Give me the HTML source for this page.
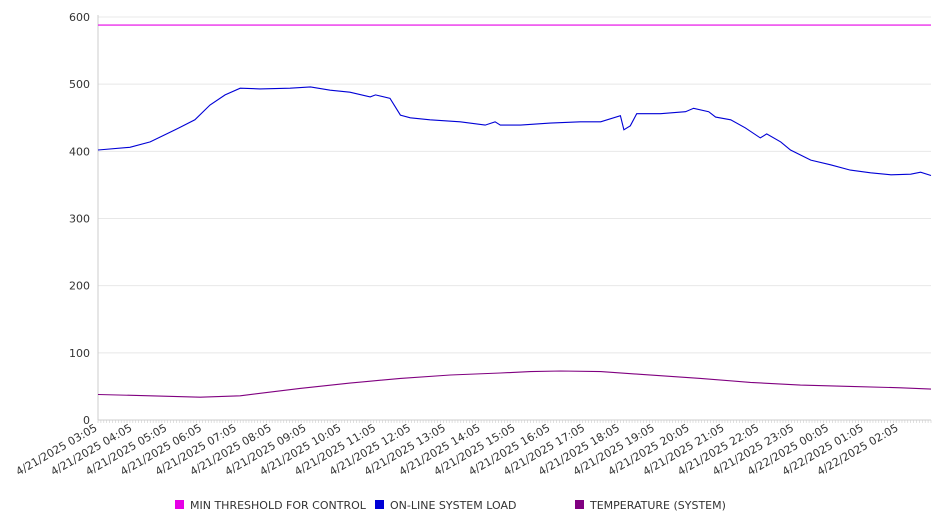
<!DOCTYPE html>
<html><head><meta charset="utf-8"><style>
body{margin:0;background:#fff;font-family:"DejaVu Sans","Liberation Sans",sans-serif;}
svg text{font-family:"DejaVu Sans","Liberation Sans",sans-serif;fill:#333;}
</style></head><body>
<svg id="chart" width="946" height="526" xmlns="http://www.w3.org/2000/svg"></svg>
<script>
const yTicks=[0,100,200,300,400,500,600];
const xLabels=["4/21/2025 03:05","4/21/2025 04:05","4/21/2025 05:05","4/21/2025 06:05","4/21/2025 07:05","4/21/2025 08:05","4/21/2025 09:05","4/21/2025 10:05","4/21/2025 11:05","4/21/2025 12:05","4/21/2025 13:05","4/21/2025 14:05","4/21/2025 15:05","4/21/2025 16:05","4/21/2025 17:05","4/21/2025 18:05","4/21/2025 19:05","4/21/2025 20:05","4/21/2025 21:05","4/21/2025 22:05","4/21/2025 23:05","4/22/2025 00:05","4/22/2025 01:05","4/22/2025 02:05"];
const thresholdMin=[0,1435];
const thresholdVal=[588,588];
const loadMin=[0,55,90,133,167,193,219,245,279,331,366,400,434,469,478,503,521,538,572,624,667,684,693,728,779,831,866,900,906,917,928,969,1012,1026,1052,1064,1090,1115,1141,1152,1176,1193,1228,1262,1296,1331,1366,1400,1417,1435];
const loadVal=[402,406,414,432,447,469,484,494,493,494,496,491,488,481,484,479,454,450,447,444,439,444,439,439,442,444,444,453,432,438,456,456,459,464,459,451,447,435,420,426,414,402,387,380,372,368,365,366,369,364];
const tempMin=[0,90,176,245,348,434,521,607,693,745,797,866,934,1038,1124,1210,1296,1383,1435];
const tempVal=[38,36,34,36,47,55,62,67,70,72,73,72,68,62,56,52,50,48,46];
const series=[
 {name:"MIN THRESHOLD FOR CONTROL",color:"#e600e6",x:thresholdMin,y:thresholdVal,key:"threshold"},
 {name:"ON-LINE SYSTEM LOAD",color:"#0000d6",x:loadMin,y:loadVal,key:"load"},
 {name:"TEMPERATURE (SYSTEM)",color:"#800080",x:tempMin,y:tempVal,key:"temperature"}];
const L=98,R=931,T=17,B=420,maxMin=1435;
const xs=m=>L+(R-L)*m/maxMin, ys=v=>B-(B-T)*v/600;
const svg=document.getElementById('chart'),NS="http://www.w3.org/2000/svg";
function mk(t,a,p){const e=document.createElementNS(NS,t);for(const k in a)e.setAttribute(k,a[k]);(p||svg).appendChild(e);return e;}
yTicks.forEach(v=>{
 const g=mk('line',{x1:L,x2:R,y1:ys(v),y2:ys(v),stroke:v?'#e8e8e8':'#ccc','stroke-width':1});
 
 
 const t=mk('text',{x:90,y:ys(v)+4,'text-anchor':'end','font-size':11});
 
 
 t.textContent=v;
});
const ax=mk('line',{x1:L,x2:L,y1:T-2,y2:B,stroke:'#ccc'});


for(let m=0;m<=maxMin;m+=5){const tk=mk('line',{x1:xs(m),x2:xs(m),y1:B,y2:B+3,stroke:'#ccc','stroke-width':0.6});
 
 }
xLabels.forEach((s,i)=>{const x=xs(i*60);
 const t=mk('text',{x:x,y:B+10,'text-anchor':'end','font-size':11,transform:`rotate(-30 ${x} ${B+10})`});
 
 
 t.textContent=s;});
series.forEach(s=>{
 const d=s.x.map((m,i)=>(i?'L':'M')+xs(m).toFixed(1)+','+ys(s.y[i]).toFixed(1)).join('');
 const p=mk('path',{d:d,fill:'none',stroke:s.color,'stroke-width':1.1});
 
 
});
const lx=[175,375,575];
series.forEach((s,i)=>{
 const g=mk('g',{});
 
 
 mk('rect',{x:lx[i],y:500,width:9,height:9,fill:s.color},g);
 const t=mk('text',{x:lx[i]+15,y:509,'font-size':11},g);
 t.textContent=s.name;
});
</script>
</body></html>
